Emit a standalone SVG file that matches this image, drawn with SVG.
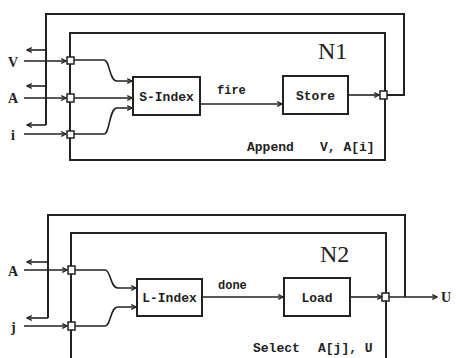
<svg xmlns="http://www.w3.org/2000/svg" width="456" height="358" viewBox="0 0 456 358">
<defs>
<marker id="arr" viewBox="0 0 10 10" refX="9" refY="5" markerWidth="6" markerHeight="6" orient="auto" markerUnits="userSpaceOnUse">
<path d="M1,1 L9,5 L1,9" fill="none" stroke="#222" stroke-width="2"/>
</marker>
</defs>
<style>
.ln{fill:none;stroke:#222;stroke-width:1.6}
.fr{fill:none;stroke:#222;stroke-width:2}
.bx{fill:#fff;stroke:#222;stroke-width:2}
.pt{fill:#fff;stroke:#222;stroke-width:1.5}
.lb{font-family:"Liberation Mono",monospace;font-weight:bold;font-size:13px;fill:#222}
.sm{font-family:"Liberation Mono",monospace;font-weight:bold;font-size:12px;fill:#222}
.io{font-family:"Liberation Serif",serif;font-weight:bold;font-size:14px;fill:#222}
.nm{font-family:"Liberation Serif",serif;font-size:24px;fill:#222}
</style>
<rect width="456" height="358" fill="#fff"/>
<g id="connectors">
<!-- top network -->
<path class="fr" d="M46,125 V14 H404 V95 H387"/>
<path class="ln" d="M46,50 H27" marker-end="url(#arr)"/>
<path class="ln" d="M46,86 H27" marker-end="url(#arr)"/>
<path class="ln" d="M46,125 H27" marker-end="url(#arr)"/>
<path class="ln" d="M24,61 H66" marker-end="url(#arr)"/>
<path class="ln" d="M24,98 H66" marker-end="url(#arr)"/>
<path class="ln" d="M24,134 H66" marker-end="url(#arr)"/>
<path class="ln" d="M74,60 H104 C110,60 109,81 117,81 H132" marker-end="url(#arr)"/>
<path class="ln" d="M74,98 H132" marker-end="url(#arr)"/>
<path class="ln" d="M74,134 H104 C110,134 109,108 117,108 H132" marker-end="url(#arr)"/>
<path class="ln" d="M200,104 H282" marker-end="url(#arr)"/>
<path class="ln" d="M348,95 H379" marker-end="url(#arr)"/>
<!-- bottom network -->
<path class="fr" d="M48,318 V215 H405 V297"/>
<path class="ln" d="M48,262 H27" marker-end="url(#arr)"/>
<path class="ln" d="M48,318 H27" marker-end="url(#arr)"/>
<path class="ln" d="M24,270 H67" marker-end="url(#arr)"/>
<path class="ln" d="M24,326 H67" marker-end="url(#arr)"/>
<path class="ln" d="M75,270 H105 C111,270 110,288 118,288 H136" marker-end="url(#arr)"/>
<path class="ln" d="M75,326 H105 C111,326 110,307 118,307 H136" marker-end="url(#arr)"/>
<path class="ln" d="M202,297 H283" marker-end="url(#arr)"/>
<path class="ln" d="M350,297 H382" marker-end="url(#arr)"/>
<path class="ln" d="M389,297 H437" marker-end="url(#arr)"/>
</g>
<g id="N1">
<rect class="fr" x="70" y="33" width="315" height="127"/>
<text class="nm" x="318" y="59">N1</text>
<text class="lb" x="247" y="151">Append</text>
<text class="lb" x="320" y="151">V, A[i]</text>
</g>
<g id="N1-ports">
<rect class="pt" x="67" y="57" width="7" height="7"/>
<rect class="pt" x="67" y="94" width="7" height="8"/>
<rect class="pt" x="67" y="131" width="7" height="7"/>
<rect class="pt" x="380" y="91" width="7" height="8"/>
</g>
<g id="inputs-top">
<text class="io" x="8" y="67">V</text>
<text class="io" x="8" y="103">A</text>
<text class="io" x="11" y="140">i</text>
</g>
<g id="S-Index">
<rect class="bx" x="133" y="77" width="67" height="38"/>
<text class="lb" x="166.5" y="101" text-anchor="middle">S-Index</text>
</g>
<g id="fire-label"><text class="sm" x="217" y="94">fire</text></g>
<g id="Store">
<rect class="bx" x="283" y="76" width="65" height="38"/>
<text class="lb" x="315.5" y="100" text-anchor="middle">Store</text>
</g>
<g id="N2">
<path class="fr" d="M71,360 V233 H386 V360"/>
<text class="nm" x="320" y="262">N2</text>
<text class="lb" x="253" y="352">Select</text>
<text class="lb" x="318" y="352">A[j], U</text>
</g>
<g id="N2-ports">
<rect class="pt" x="68" y="266" width="7" height="8"/>
<rect class="pt" x="68" y="322" width="7" height="8"/>
<rect class="pt" x="382" y="293" width="7" height="8"/>
</g>
<g id="inputs-bottom">
<text class="io" x="8" y="276">A</text>
<text class="io" x="11" y="332">j</text>
<text class="io" x="441" y="302">U</text>
</g>
<g id="L-Index">
<rect class="bx" x="137" y="279" width="65" height="37"/>
<text class="lb" x="169.5" y="302" text-anchor="middle">L-Index</text>
</g>
<g id="done-label"><text class="sm" x="218" y="289">done</text></g>
<g id="Load">
<rect class="bx" x="284" y="278" width="66" height="38"/>
<text class="lb" x="317" y="302" text-anchor="middle">Load</text>
</g>
</svg>
